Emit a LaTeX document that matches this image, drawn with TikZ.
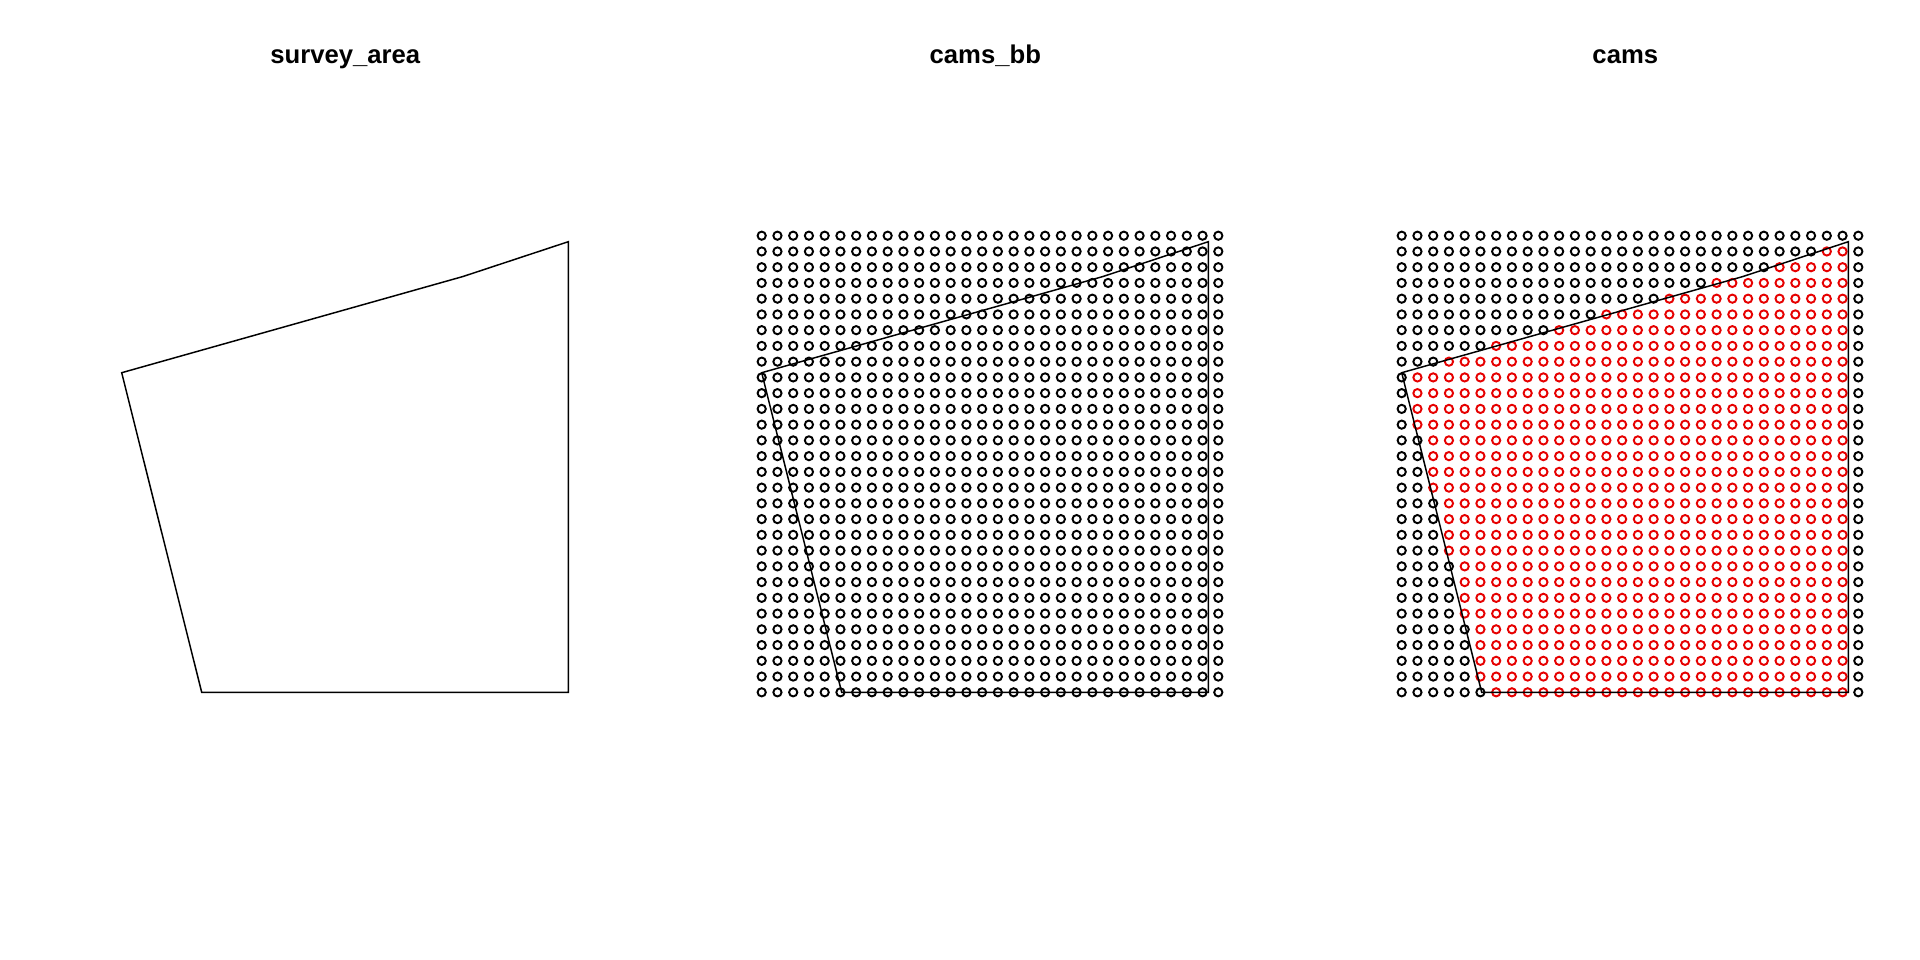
\documentclass[tikz,border=0pt]{standalone}
\usepackage{fontspec}
\setmainfont{Liberation Sans}
\usetikzlibrary{calc}
\definecolor{camred}{RGB}{230,0,0}
\tikzset{
  area/.style={draw=black,line width=0.42pt,line join=miter},
  cam/.style={draw=#1,line width=0.55pt},
  cam/.default=black,
  panel title/.style={font=\fontsize{7.3}{8.5}\selectfont\bfseries,anchor=base},
  % the survey polygon, one per panel
  pics/survey/.style={code={
    \draw[area] (121.7,372.7) -- (463,276.5) -- (568.3,241.7) -- (568.3,692.3) -- (201.7,692.3) -- cycle;
  }},
}
% first camera column inside the area, row by row from the bottom
\def\firstin{{6,5,5,5,5,4,4,4,4,3,3,3,3,2,2,2,2,1,1,1,1,3,6,10,13,17,20,24,27,30}}

\begin{document}
\begin{tikzpicture}[x=0.01cm,y=-0.01cm]
  \useasboundingbox (0,0) rectangle (1920,960);

  % camera grids (bounding box and clipped)
  \foreach \off/\mark in {640/0,1280/1} {
    \foreach \k in {0,...,29} {
      \pgfmathtruncatemacro{\s}{\firstin[\k]}
      \foreach \j in {0,...,29} {
        \pgfmathtruncatemacro{\inside}{and(\mark==1,and(\j>=\s,\j<=28))}
        \ifnum\inside=1 \def\c{camred}\else\def\c{black}\fi
        \draw[cam=\c] (121.7+\off+\j*15.745,692.3-\k*15.745) circle (1.17pt);
      }
    }
  }

  \pic at (0,0) {survey};
  \pic at (640,0) {survey};
  \pic at (1280,0) {survey};

  \node[panel title] (t1) at (345.3,63) {survey\_area};
  \node[panel title] (t2) at (985.3,63) {cams\_bb};
  \node[panel title] (t3) at (1625.3,63) {cams};
\end{tikzpicture}
\end{document}
